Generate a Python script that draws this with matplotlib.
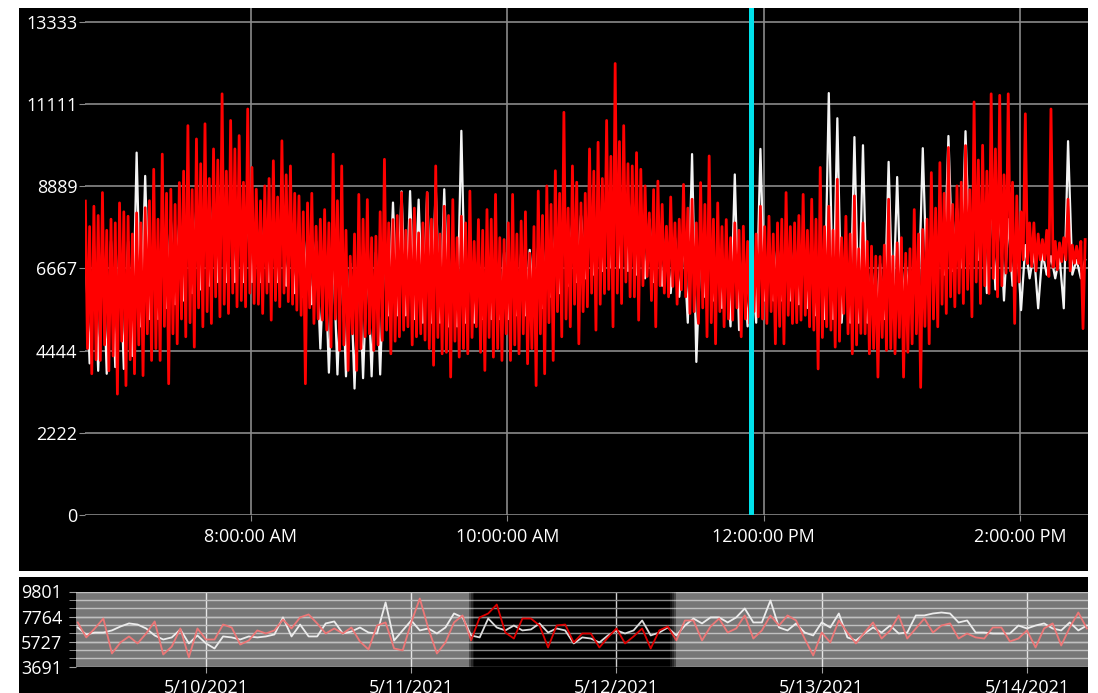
import numpy as np
import pandas as pd
import matplotlib
matplotlib.use("Agg")
import matplotlib.pyplot as plt
import matplotlib.dates as mdates
from matplotlib.patches import Rectangle
from matplotlib.ticker import FuncFormatter

plt.rcParams['font.family'] = ['Open Sans', 'DejaVu Sans']

# main chart, 1 minute samples, every 4 minutes:
# outer peak, inner trough, inner peak, outer trough
red_hi = [8490, 8350, 8720, 8000, 8440, 8080, 8170, 8310, 9350, 9760,
          8810, 8990, 10530, 10170, 10580, 9900, 11390, 10670, 10260, 10980,
          8810, 8900, 9580, 10120, 9440, 8630, 8440, 7810, 8260, 9760,
          9440, 7000, 8670, 8530, 7540, 9620, 7990, 8720, 7990, 7630,
          8720, 9440, 8350, 8530, 8080, 8760, 7990, 8260, 8670, 7450,
          8670, 7950, 7080, 8760, 8900, 9310, 10890, 9440, 8440, 9900,
          10080, 10670, 12210, 10530, 9440, 9350, 8170, 9030, 7810, 7900,
          8940, 8540, 8990, 9710, 8440, 7990, 7900, 7810, 7630, 8350,
          8080, 7900, 8720, 7900, 8670, 8540, 9400, 8350, 9080, 8080,
          8630, 7900, 7270, 6990, 8540, 7360, 7080, 8260, 7720, 9260,
          9530, 9940, 8900, 9990, 11170, 10000, 11390, 11350, 11390, 8630,
          10850, 7900, 7450, 10980, 7360, 8540, 7270, 7450]
red_lo_in = [4500, 4200, 4600, 4300, 4700, 4200, 4600, 4900, 4500, 5100,
             4900, 5300, 5200, 5600, 5500, 5900, 5700, 6000, 5800, 6000,
             5700, 6000, 5800, 6000, 5700, 5400, 5600, 5300, 5000, 5300,
             4600, 4900, 4500, 4900, 4600, 5000, 4700, 5000, 4600, 4900,
             4500, 4800, 4400, 4700, 4500, 4800, 4400, 4800, 4500, 4900,
             4600, 4900, 4500, 4900, 5200, 5500, 5300, 5700, 5500, 6000,
             5700, 6100, 6000, 6300, 5900, 6200, 5800, 6200, 5900, 5700,
             5900, 5500, 5600, 5200, 5500, 5300, 5600, 5300, 5500, 5300,
             5500, 5100, 5400, 5200, 5400, 5000, 4800, 5000, 4700, 4900,
             4600, 4900, 4500, 4800, 4500, 4800, 4400, 4900, 5100, 5300,
             5700, 5900, 6000, 6100, 6300, 6200, 6400, 6200, 6600, 6300,
             6800, 6600, 6900, 6700, 6850, 6600, 6800]
red_hi_in = [7800, 8100, 7700, 7900, 8200, 7600, 7900, 8500, 8000, 8700,
             8400, 9300, 8800, 9500, 9100, 9600, 9300, 9900, 9000, 9400,
             8500, 9100, 8600, 9200, 8700, 8200, 8700, 8000, 7900, 8500,
             7700, 7600, 8000, 7500, 8200, 7900, 8100, 7700, 8300, 7900,
             8000, 7600, 8100, 7500, 7900, 7400, 7700, 8000, 7500, 7900,
             7600, 8200, 7800, 8100, 8400, 8700, 8300, 9000, 8700, 9300,
             9100, 9700, 10100, 9500, 9800, 8900, 8800, 8400, 8600, 8000,
             8300, 7900, 8400, 8000, 7800, 7500, 7700, 7400, 7600, 7800,
             7600, 8000, 7800, 8100, 7700, 8000, 7800, 7700, 7500, 7600,
             7200, 7400, 7000, 7300, 7000, 7500, 7200, 7600, 8000, 8300,
             8700, 8400, 9000, 8800, 9600, 9300, 9900, 9200, 9000, 8200,
             7900, 7600, 7700, 7400, 7500, 7300, 7400]
red_lo = [3820, 4180, 3900, 3270, 3500, 3820, 3770, 4180, 4180, 3550,
          4630, 4820, 4540, 5090, 5180, 5360, 5450, 5630, 5630, 5720,
          5450, 5270, 5630, 5770, 5540, 3550, 5180, 5270, 4540, 4450,
          3910, 3910, 4820, 4450, 4720, 4360, 4820, 5090, 4820, 4730,
          4050, 4360, 3730, 4270, 4360, 5090, 3910, 4270, 4180, 4180,
          4360, 4090, 3500, 3820, 4180, 4820, 5090, 4630, 5630, 5000,
          5990, 5090, 5720, 5900, 5270, 6450, 5090, 6000, 6180, 6090,
          5450, 5180, 4820, 4630, 5090, 5270, 4820, 5180, 5360, 5180,
          4630, 4630, 5180, 5270, 5090, 3950, 5090, 4540, 5450, 4360,
          4910, 4360, 3730, 4450, 4360, 3730, 4630, 3450, 4630, 5090,
          5450, 5630, 5720, 5360, 5720, 5990, 5900, 6540, 5180, 6900,
          6720, 6900, 6450, 6630, 6900, 6810, 5040]
# white trace, 2 minute samples: peak, trough
white_hi = [7300, 7300, 7400, 7400, 7400, 7400, 9800, 9170, 7600, 7800,
            8000, 8000, 8200, 8400, 8500, 8600, 8600, 8500, 8400, 8100,
            8000, 8100, 8100, 8100, 7800, 7700, 7600, 7400, 7300, 7200,
            7000, 6800, 7000, 7000, 7100, 7300, 8450, 8750, 8760, 8530,
            8720, 8900, 8810, 7300, 10390, 7100, 7000, 7000, 7000, 7100,
            7000, 7100, 7170, 7300, 7500, 7700, 7800, 8000, 8100, 8300,
            8500, 8700, 8900, 8800, 8500, 8300, 8000, 7800, 7600, 7500,
            7400, 9760, 7300, 7200, 7100, 7000, 9210, 7000, 7000, 9900,
            7200, 7300, 7300, 7300, 7200, 7200, 7100, 11410, 10730, 7000,
            10220, 10000, 6700, 6800, 9550, 9140, 6800, 7000, 9920, 7600,
            7900, 10250, 8300, 10380, 8600, 8700, 8600, 8300, 8000, 7500,
            7300, 7100, 7100, 7000, 7000, 10110, 6900, 6900]
white_lo = [4100, 3900, 3820, 4000, 3950, 4300, 5100, 5300, 5300, 5600,
            5700, 5800, 6000, 6100, 6200, 6300, 6300, 6300, 6300, 6300,
            6300, 6300, 6300, 6200, 6000, 5900, 5700, 4500, 3850, 3800,
            3750, 3420, 3700, 3750, 3800, 5400, 5400, 5400, 5300, 5200,
            5200, 5200, 5100, 5100, 5200, 5200, 5300, 5300, 5300, 5300,
            5400, 5400, 5500, 5600, 5900, 6000, 6200, 6300, 6400, 6500,
            6600, 6700, 6700, 6600, 6500, 6400, 6300, 6200, 6000, 5900,
            5200, 4140, 5900, 5800, 5600, 5100, 5000, 5100, 5200, 5800,
            5800, 5800, 5800, 5700, 5600, 5400, 5300, 5300, 5200, 5200,
            5200, 5200, 5200, 5300, 5400, 5500, 5600, 5800, 6100, 6300,
            6500, 6600, 6700, 6800, 6900, 6000, 6100, 5800, 6200, 5540,
            6400, 5590, 6500, 6400, 5590, 6500, 6400]

# navigator, hourly values
nav_red = [7280, 6060, 6790, 7600, 4750, 5650, 6140, 5570, 6380, 7360,
           4670, 5320, 6790, 4430, 6790, 5890, 5890, 7110, 6870, 5480,
           5810, 6630, 6380, 6630, 7520, 6790, 7690, 7930, 7200, 6380,
           6790, 6380, 6870, 5730, 5080, 7030, 7280, 5160, 5000, 7280,
           9230, 6790, 4750, 5650, 7280, 7850, 5810, 7690, 8010, 8740,
           6460, 5970, 7600, 7600, 7030, 5240, 7030, 7110, 5650, 6380,
           6380, 5240, 6060, 6790, 5570, 6140, 6790, 5160, 6630, 6950,
           5810, 7440, 7440, 5810, 6950, 7600, 6460, 6790, 7850, 5970,
           6630, 7850, 7030, 7850, 7440, 5970, 4590, 6460, 5650, 7440,
           6460, 5570, 6460, 7280, 5970, 6630, 7850, 5970, 6790, 7600,
           6460, 7030, 7200, 5970, 6380, 6060, 5970, 6870, 6870, 5730,
           5970, 6630, 5240, 6790, 7200, 5400, 6870, 8090, 6790]
nav_white = [6870, 6300, 6460, 6460, 6630, 6950, 7200, 7110, 6790, 6220,
             5890, 6060, 6710, 5570, 6220, 5570, 5160, 6140, 6060, 5890,
             6140, 6060, 6140, 6300, 7690, 6140, 7110, 6140, 6140, 7200,
             7360, 6380, 6540, 6870, 6460, 6380, 8910, 5810, 6630, 7440,
             6630, 6790, 6380, 6870, 8010, 7690, 6220, 6060, 7600, 6870,
             6630, 7030, 6630, 6710, 7200, 6460, 6790, 6630, 5570, 6060,
             5970, 5650, 6220, 6630, 6380, 6630, 7440, 6220, 6460, 6870,
             6220, 7030, 7600, 7200, 7690, 7690, 7280, 7690, 8420, 7280,
             7280, 9070, 6870, 6630, 7200, 6460, 6220, 7280, 6870, 8010,
             6060, 5810, 6380, 6870, 6460, 7030, 6380, 6460, 7850, 7850,
             8010, 8090, 8010, 7280, 7440, 6460, 6460, 6380, 6380, 6380,
             7030, 6790, 7030, 7200, 6790, 6630, 7280, 6630, 7030]

y_ticks = [0, 2222, 4444, 6667, 8889, 11111, 13333]
nav_labels = [3691, 5727, 7764, 9801]
cursor = pd.Timestamp('2021-05-12 11:54:10')
window = (pd.Timestamp('2021-05-11 06:47'), pd.Timestamp('2021-05-12 06:54'))


def weave(*cols):
    # interleave the columns in turn; the first one has one extra value at the end
    out = []
    for i in range(len(cols[0])):
        for c in cols:
            if i < len(c):
                out.append(c[i])
    return out


red = weave(red_hi, red_lo_in, red_hi_in, red_lo)
white = weave(white_hi, white_lo)
t_red = pd.date_range('2021-05-12 06:42:30', periods=len(red), freq='1min')
t_white = pd.date_range('2021-05-12 06:42:30', periods=len(white), freq='2min')
t_nav = pd.date_range('2021-05-09 09:00', periods=len(nav_red), freq='h')

W, H = 1098, 693
fig = plt.figure(figsize=(W / 100, H / 100), dpi=100)


def box(x0, y0, x1, y1):
    # pixel box (top-left origin) -> figure fraction
    return [x0 / W, 1 - y1 / H, (x1 - x0) / W, (y1 - y0) / H]


for b in (box(19, 8, 1088, 571), box(19, 577, 1088, 693)):
    fig.add_artist(Rectangle((b[0], b[1]), b[2], b[3], transform=fig.transFigure,
                             facecolor='black', edgecolor='none', zorder=0))

grid_col = '#8a8a8a'

# ---- main chart
ax = fig.add_axes(box(85, 8, 1088, 515))
ax.set_facecolor('black')
ax.plot(t_white, white, color='#f4f4f4', lw=1.6, zorder=2)
ax.plot(t_red, red, color='#ff0000', lw=2.0, zorder=3)
ax.axvline(cursor, color='#00e1ea', lw=3.6, zorder=4)

ax.set_xlim(pd.Timestamp('2021-05-12 06:42:20'), pd.Timestamp('2021-05-12 14:31:50'))
ax.set_ylim(0, 13711)
ax.set_yticks(y_ticks)
ax.set_yticklabels([str(v) for v in y_ticks])
ax.xaxis.set_major_locator(mdates.HourLocator(byhour=[8, 10, 12, 14]))
ax.xaxis.set_major_formatter(FuncFormatter(
    lambda x, pos: mdates.num2date(x).strftime('%I:%M:%S %p').lstrip('0')))
ax.grid(True, color=grid_col, lw=1.2)
ax.set_axisbelow(True)
ax.tick_params(axis='y', length=4, pad=1.5, color=grid_col, labelcolor='white', labelsize=13)
ax.tick_params(axis='x', length=4.5, pad=5, color=grid_col, labelcolor='white', labelsize=13)
for s in ax.spines.values():
    s.set_visible(False)

# ---- navigator
axn = fig.add_axes(box(76, 591.5, 1088, 666.5))
axn.set_facecolor('black')
axn.plot(t_nav, nav_white, color='#dcdcdc', lw=1.3, zorder=2)
axn.plot(t_nav, nav_red, color='#dd0000', lw=1.3, zorder=3)

x0, x1 = pd.Timestamp('2021-05-09 08:48'), pd.Timestamp('2021-05-14 07:08')
axn.set_xlim(x0, x1)
axn.set_ylim(nav_labels[0], nav_labels[-1])
axn.set_yticks(nav_labels)
axn.set_yticks(np.linspace(nav_labels[0], nav_labels[-1], 10), minor=True)
axn.set_yticklabels([str(v) for v in nav_labels])
axn.xaxis.set_major_locator(mdates.DayLocator())
axn.xaxis.set_major_formatter(FuncFormatter(
    lambda x, pos: '{d.month}/{d.day}/{d.year}'.format(d=mdates.num2date(x))))
axn.grid(True, which='both', axis='y', color=grid_col, lw=1.0)
axn.grid(True, axis='x', color='#d0d0d0', lw=1.0)
axn.set_axisbelow(True)
axn.axvspan(x0, window[0], color='white', alpha=0.47, lw=0, zorder=5)
axn.axvspan(window[1], x1, color='white', alpha=0.47, lw=0, zorder=5)
# soft shadow on the inner edges of the selection window
step = pd.Timedelta(minutes=12)
for i, a in enumerate([0.28, 0.16, 0.07]):
    axn.axvspan(window[0] + i * step, window[0] + (i + 1) * step,
                color='white', alpha=a, lw=0, zorder=5)
    axn.axvspan(window[1] - (i + 1) * step, window[1] - i * step,
                color='white', alpha=a, lw=0, zorder=5)
axn.tick_params(axis='y', which='both', length=5, pad=5, color='#a0a0a0',
                labelcolor='white', labelsize=13)
axn.tick_params(axis='x', length=4.3, pad=5, color='#a0a0a0',
                labelcolor='white', labelsize=13)
for s in axn.spines.values():
    s.set_visible(False)

fig.savefig('out.png', dpi=100, facecolor='white')
